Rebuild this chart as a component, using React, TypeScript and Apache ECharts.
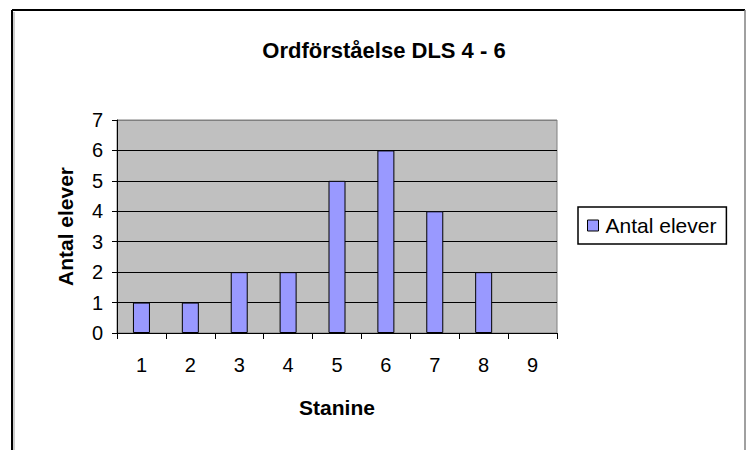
import React, { useEffect, useRef } from "react";
import * as echarts from "echarts";

const titleText = "Ordförståelse DLS 4 - 6";
const categories = ["1", "2", "3", "4", "5", "6", "7", "8", "9"];
const seriesName = "Antal elever";
const values = [1, 1, 2, 2, 5, 6, 4, 2, 0];
const yAxisName = "Antal elever";
const xAxisName = "Stanine";

const FONT = "'Liberation Sans', Arial, sans-serif";

export default function App() {
  const ref = useRef<HTMLDivElement>(null);
  useEffect(() => {
    if (!ref.current) return;
    const chart = echarts.init(ref.current, undefined, { renderer: "svg" });
    chart.setOption({
      animation: false,
      backgroundColor: "#ffffff",
      textStyle: { fontFamily: FONT },
      title: {
        text: titleText,
        left: 379,
        top: 34,
        textAlign: "center",
        textStyle: { fontFamily: FONT, fontSize: 22, fontWeight: "bold", color: "#000" },
      },
      grid: {
        left: 117,
        top: 120,
        width: 440,
        height: 213,
        show: true,
        backgroundColor: "#C0C0C0",
        borderColor: "#808080",
        borderWidth: 1,
      },
      legend: {
        left: 578,
        top: 207,
        orient: "vertical",
        padding: [8, 10, 8, 9],
        itemWidth: 11,
        itemHeight: 11,
        itemGap: 0,
        icon: "rect",
        backgroundColor: "#fff",
        borderColor: "#000",
        borderWidth: 1.5,
        borderRadius: 0,
        textStyle: { fontFamily: FONT, fontSize: 21, color: "#000", padding: [0, 0, 0, 2] },
        data: [{ name: seriesName, itemStyle: { color: "#9999FF", borderColor: "#000", borderWidth: 1 } }],
      },
      xAxis: {
        type: "category",
        data: categories,
        boundaryGap: true,
        name: xAxisName,
        nameLocation: "middle",
        nameGap: 64,
        nameTextStyle: { fontFamily: FONT, fontSize: 21, fontWeight: "bold", color: "#000" },
        axisLine: { show: true, lineStyle: { color: "#000", width: 1 } },
        axisTick: { show: true, length: 6, alignWithLabel: false, lineStyle: { color: "#000" } },
        axisLabel: { fontFamily: FONT, fontSize: 20, color: "#000", margin: 22 },
        splitLine: { show: false },
      },
      yAxis: {
        type: "value",
        min: 0,
        max: 7,
        interval: 1,
        name: yAxisName,
        nameLocation: "middle",
        nameRotate: 90,
        nameGap: 41,
        nameTextStyle: { fontFamily: FONT, fontSize: 21, fontWeight: "bold", color: "#000" },
        axisLine: { show: true, lineStyle: { color: "#000", width: 1 } },
        axisTick: { show: true, length: 5, lineStyle: { color: "#000" } },
        axisLabel: { fontFamily: FONT, fontSize: 20, color: "#000", margin: 14 },
        splitLine: {
          show: true,
          lineStyle: {
            color: ["#000", "#000", "#000", "#000", "#000", "#000", "#000", "#808080"],
            width: 1,
          },
        },
      },
      series: [
        {
          name: seriesName,
          type: "bar",
          data: values.map((v) => (v === 0 ? { value: v, itemStyle: { borderWidth: 0, opacity: 0 } } : v)),
          barWidth: 17,
          itemStyle: { color: "#9999FF", borderColor: "#000", borderWidth: 1 },
        },
      ],
      graphic: [
        { type: "line", shape: { x1: 12, y1: 10, x2: 745, y2: 10 }, style: { stroke: "#000", lineWidth: 2 } },
        { type: "line", shape: { x1: 12, y1: 10, x2: 12, y2: 450 }, style: { stroke: "#000", lineWidth: 2 } },
        { type: "line", shape: { x1: 14, y1: 12, x2: 14, y2: 450 }, style: { stroke: "#9a9a9a", lineWidth: 1 } },
        { type: "line", shape: { x1: 745, y1: 10, x2: 745, y2: 450 }, style: { stroke: "#808080", lineWidth: 1.5 } },
      ],
    });
    return () => chart.dispose();
  }, []);
  return (
    <div
      ref={ref}
      style={{ position: "fixed", left: 0, top: 0, width: 747, height: 450, background: "#fff" }}
    />
  );
}
